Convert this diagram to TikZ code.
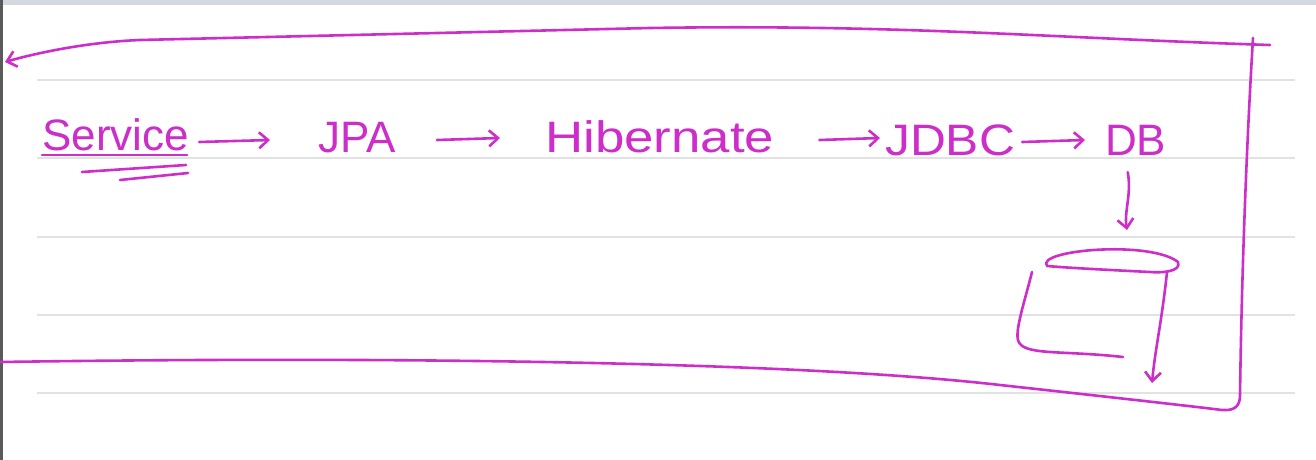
\documentclass[tikz,border=0pt]{standalone}
\usepackage{fontspec}
\setmainfont{Liberation Sans}
\usetikzlibrary{arrows.meta,calc}
\definecolor{ink}{RGB}{205,45,200}
\definecolor{rulecol}{RGB}{226,226,226}
\definecolor{edgecol}{RGB}{90,90,90}
\definecolor{bandcol}{RGB}{212,216,224}
\begin{document}
\begin{tikzpicture}[x=1pt,y=-1pt,
  pen/.style={draw=ink,line width=2.6pt,line cap=round,line join=round},
  tip/.style={-{Straight Barb[length=9pt,width=16pt]}},
  word/.style={text=ink,font=\fontsize{44}{44}\selectfont,inner sep=0pt,anchor=base west},
  ruling/.style={draw=rulecol,line width=2.4pt}]
\useasboundingbox (0,0) rectangle (1316,460);
\fill[white] (0,0) rectangle (1316,460);
\fill[bandcol] (0,0) rectangle (1316,5);
\fill[edgecol] (0,0) rectangle (2.5,460);
\foreach \y in {80,158,237,315,393} \draw[ruling] (37,\y) -- (1295,\y);

% words
\node[word] (service) at (42,150) {Service};
\node[word] (jpa) at (318,152) {JPA};
\node[word] (hib) at (545,152) {\scalebox{1.2}[1]{Hibernate}};
\node[word] (jdbc) at (885,155) {\scalebox{1.13}[1]{JDBC}};
\node[word] (db) at (1105,155) {DB};

% underline of Service
\draw[pen] ($(service.base west)+(0,5)$) -- ($(service.base east)+(-2,5)$);
\draw[pen] ($(service.base west)+(40,22)$) -- ($(service.base east)+(-3,15)$);
\draw[pen] ($(service.base west)+(78,30)$) -- ($(service.base east)+(-1,23)$);

% chain arrows
\draw[pen,tip] ($(service.base east)+(10,-8)$) -- ($(jpa.base west)+(-48,-12)$);
\draw[pen,tip] ($(jpa.base east)+(41,-12)$) -- ($(hib.base west)+(-45,-14)$);
\draw[pen,tip] ($(hib.base east)+(45,-12)$) -- ($(jdbc.base west)+(-5,-17)$);
\draw[pen,tip] ($(jdbc.base east)+(7,-13)$) -- ($(db.base west)+(-20,-15)$);

% DB down to the drum
\coordinate (drumtop) at (1127,230);
\draw[pen,tip] ($(db.south)+(-8,17)$) .. controls ($(db.south)+(-4,40)$) and (1124,210) .. (drumtop);

% drum
\draw[pen] (1047,266) .. controls (1035,250) and (1150,240) .. (1178,262)
  .. controls (1182,272) and (1160,273) .. (1150,272)
  .. controls (1110,270) and (1070,268) .. (1047,266);
\draw[pen] (1032,272) .. controls (1025,300) and (1015,330) .. (1018,340)
  .. controls (1022,356) and (1060,350) .. (1123,357);
\draw[pen,tip] (1167,272) .. controls (1162,320) and (1155,350) .. (1152,383);

% big return loop
\coordinate (loopin) at (0,362);
\coordinate (corner) at (1240,395);
\coordinate (looptop) at (1253,38);
\coordinate (backstart) at (1270,45);
\coordinate (backend) at (5,62);
\draw[pen] (loopin) .. controls (400,356) and (800,362) .. (1000,385)
  .. controls (1100,396) and (1190,406) .. (1222,410)
  .. controls (1236,411) and (1240,405) .. (corner)
  .. controls (1242,250) and (1248,120) .. (looptop);
\draw[pen,tip] (backstart) .. controls (1050,38) and (900,24) .. (650,28)
  -- (140,40) .. controls (90,42) and (40,52) .. (backend);
\end{tikzpicture}
\end{document}
